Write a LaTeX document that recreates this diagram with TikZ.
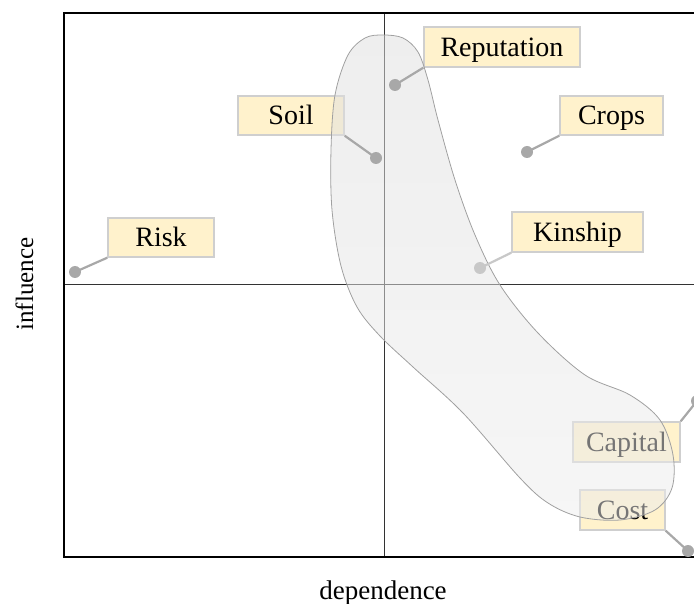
\documentclass[tikz,border=0pt]{standalone}
\usepackage{fontspec}
\setmainfont{Liberation Serif}
\definecolor{boxfill}{HTML}{FFF2CC}
\definecolor{boxline}{HTML}{CFCFCF}
\definecolor{pin}{HTML}{A8A8A8}
\definecolor{pinlight}{HTML}{C8C8C8}
\definecolor{midline}{HTML}{333333}
\definecolor{hullline}{HTML}{A0A0A0}
\tikzset{
  tag/.style={draw=boxline, line width=1.4pt, fill=boxfill, inner sep=0pt,
    text height=19pt, text depth=0pt,
    font=\fontsize{28}{34}\selectfont},
  pindot/.style={circle, fill=pin, inner sep=0pt, minimum size=12pt},
  pinline/.style={draw=pin, line width=2.2pt},
  axislabel/.style={font=\fontsize{27}{32}\selectfont, inner sep=0pt},
}
% outline of the highlighted cluster
\def\hullpts{(383,35) (403,38) (418,52) (428,80) (438,120) (455,180) (475,235)
    (500,285) (538,333) (585,375) (630,395) (660,420) (673,455)
    (672,488) (655,510) (620,520) (580,517) (548,503) (520,478) (463,413)
    (413,367) (380,336) (357,307) (341,266) (332,210) (331,150) (335,95)
    (348,55) (365,38)}
\begin{document}
\begin{tikzpicture}[x=1pt,y=-1pt]
\useasboundingbox (0,0) rectangle (694,604);
\clip (0,0) rectangle (694,604);

% quadrant frame
\draw[midline, line width=1pt] (384,13) -- (384,557);
\draw[midline, line width=1pt] (64,285) -- (704,285);
\draw[black, line width=2.2pt] (64,13) rectangle (704,557);

% axis titles
\node[axislabel, anchor=base] (xlab) at (383,599) {dependence};
\node[axislabel, anchor=base, rotate=90, font=\fontsize{25}{30}\selectfont] (ylab) at (33,284) {influence};

% factor labels
\node[tag, minimum width=156pt, minimum height=40pt] (rep) at (502,47) {Reputation};
\node[tag, minimum width=106pt, minimum height=39pt] (soil) at (291,115.5) {Soil};
\node[tag, minimum width=103pt, minimum height=39pt] (crops) at (611.5,115.5) {Crops};
\node[tag, minimum width=106pt, minimum height=39pt] (risk) at (161,237.5) {Risk};
\node[tag, minimum width=131pt, minimum height=40pt] (kin) at (577.5,232) {Kinship};
\node[tag, minimum width=107pt, minimum height=40pt] (cap) at (626.5,442) {Capital};
\node[tag, minimum width=85pt, minimum height=40pt] (cost) at (622.5,510) {Cost};

% highlighted cluster
\shade[top color=black!13, bottom color=black!7, opacity=0.5]
  plot[smooth cycle, tension=0.55] coordinates {\hullpts};
\draw[hullline, line width=0.8pt]
  plot[smooth cycle, tension=0.55] coordinates {\hullpts};

% data points
\node[pindot] (prep) at (395,85) {};
\node[pindot] (psoil) at (376,158) {};
\node[pindot] (pcrops) at (527,152) {};
\node[pindot] (prisk) at (75,272) {};
\node[pindot, fill=pinlight] (pkin) at (480,268) {};
\node[pindot] (pcap) at (697,401) {};
\node[pindot] (pcost) at (688,551) {};

% leader lines
\draw[pinline] (prep.center) -- (rep.south west);
\draw[pinline] (psoil.center) -- (soil.south east);
\draw[pinline] (pcrops.center) -- (crops.south west);
\draw[pinline] (prisk.center) -- (risk.south west);
\draw[pinline, draw=pinlight] (pkin.center) -- (kin.south west);
\draw[pinline] (pcap.center) -- (cap.north east);
\draw[pinline] (pcost.center) -- (cost.south east);
\end{tikzpicture}
\end{document}
